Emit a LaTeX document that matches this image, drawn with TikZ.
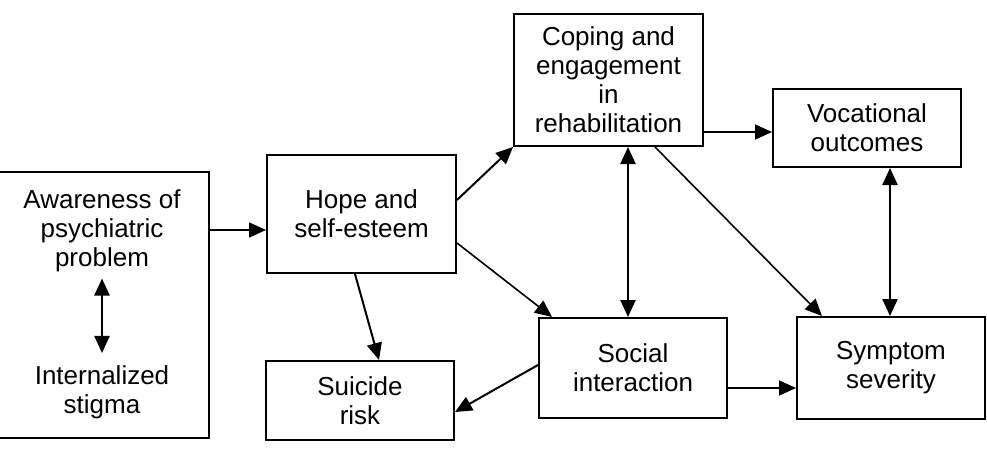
\documentclass[tikz,border=0pt]{standalone}
\usepackage{fontspec}
\setmainfont{Liberation Sans}
\usetikzlibrary{arrows.meta,calc}

\begin{document}
\begin{tikzpicture}[
  x=0.5pt,
  y=-0.5pt,
  font=\fontsize{13}{14.5}\selectfont,
  box/.style={draw, line width=1pt, align=center, inner sep=0pt},
  lbl/.style={align=center, inner sep=0pt},
  link/.style={line width=1pt, -{Triangle[length=8.5pt,width=7.5pt]}},
  both/.style={line width=1.2pt,
    {Triangle[length=8.5pt,width=7.5pt]}-{Triangle[length=8.5pt,width=7.5pt]}}
]
  \useasboundingbox (0,0) rectangle (987,450);

  % Left block
  \node[box, minimum width=106pt, minimum height=133pt] (aware) at (103,305) {};
  \node[lbl] (awaretxt) at (102,231) {Awareness of\\psychiatric\\problem};
  \node[lbl] (stigma) at (102,392) {Internalized\\stigma};

  % Middle and right blocks
  \node[box, minimum width=94.5pt, minimum height=59pt] (hope) at (361.5,214)
    {Hope and\\self-esteem};
  \node[box, minimum width=94.5pt, minimum height=66pt] (coping) at (608.5,80)
    {Coping and\\engagement\\in\\rehabilitation};
  \node[box, minimum width=94pt, minimum height=39pt] (voc) at (867,128)
    {Vocational\\outcomes};
  \node[box, minimum width=94pt, minimum height=39.5pt] (suicide) at (360,400.5)
    {Suicide\\risk};
  \node[box, minimum width=94pt, minimum height=50pt] (social) at (633,368)
    {Social\\interaction};
  \node[box, minimum width=94pt, minimum height=51pt] (symptom) at (891,368)
    {Symptom\\severity};

  % Two-way link inside left block
  \draw[both, shorten <=3pt, shorten >=6pt] (awaretxt.south) -- (stigma.north);

  % Links
  \coordinate (a1) at ($(aware.east)+(0,-75)$);
  \draw[link, line width=0.8pt] (a1) -- (hope.west |- a1);

  \draw[link] ($(hope.east)+(0,-14)$) -- (coping.south west);
  \draw[link, line width=0.8pt] ($(hope.east)+(0,29)$) -- ($(social.north west)+(14,0)$);
  \draw[link] ($(hope.south)+(-6.5,0)$) -- ($(suicide.north)+(19,0)$);

  \coordinate (c1) at ($(coping.south)+(19.5,0)$);
  \draw[both] (c1) -- (c1 |- social.north);

  \coordinate (c2) at ($(coping.south east)+(0,-15)$);
  \draw[link] (c2) -- (voc.west |- c2);

  \draw[link, line width=0.8pt] ($(coping.south)+(46.5,0)$) -- ($(symptom.north west)+(26,0)$);

  \coordinate (v1) at ($(voc.south)+(23,0)$);
  \draw[both] (v1) -- (v1 |- symptom.north);

  \draw[link] ($(social.west)+(0,-3)$) -- ($(suicide.east)+(0,11.5)$);

  \coordinate (s1) at ($(social.east)+(0,20)$);
  \draw[link] (s1) -- (symptom.west |- s1);
\end{tikzpicture}
\end{document}
